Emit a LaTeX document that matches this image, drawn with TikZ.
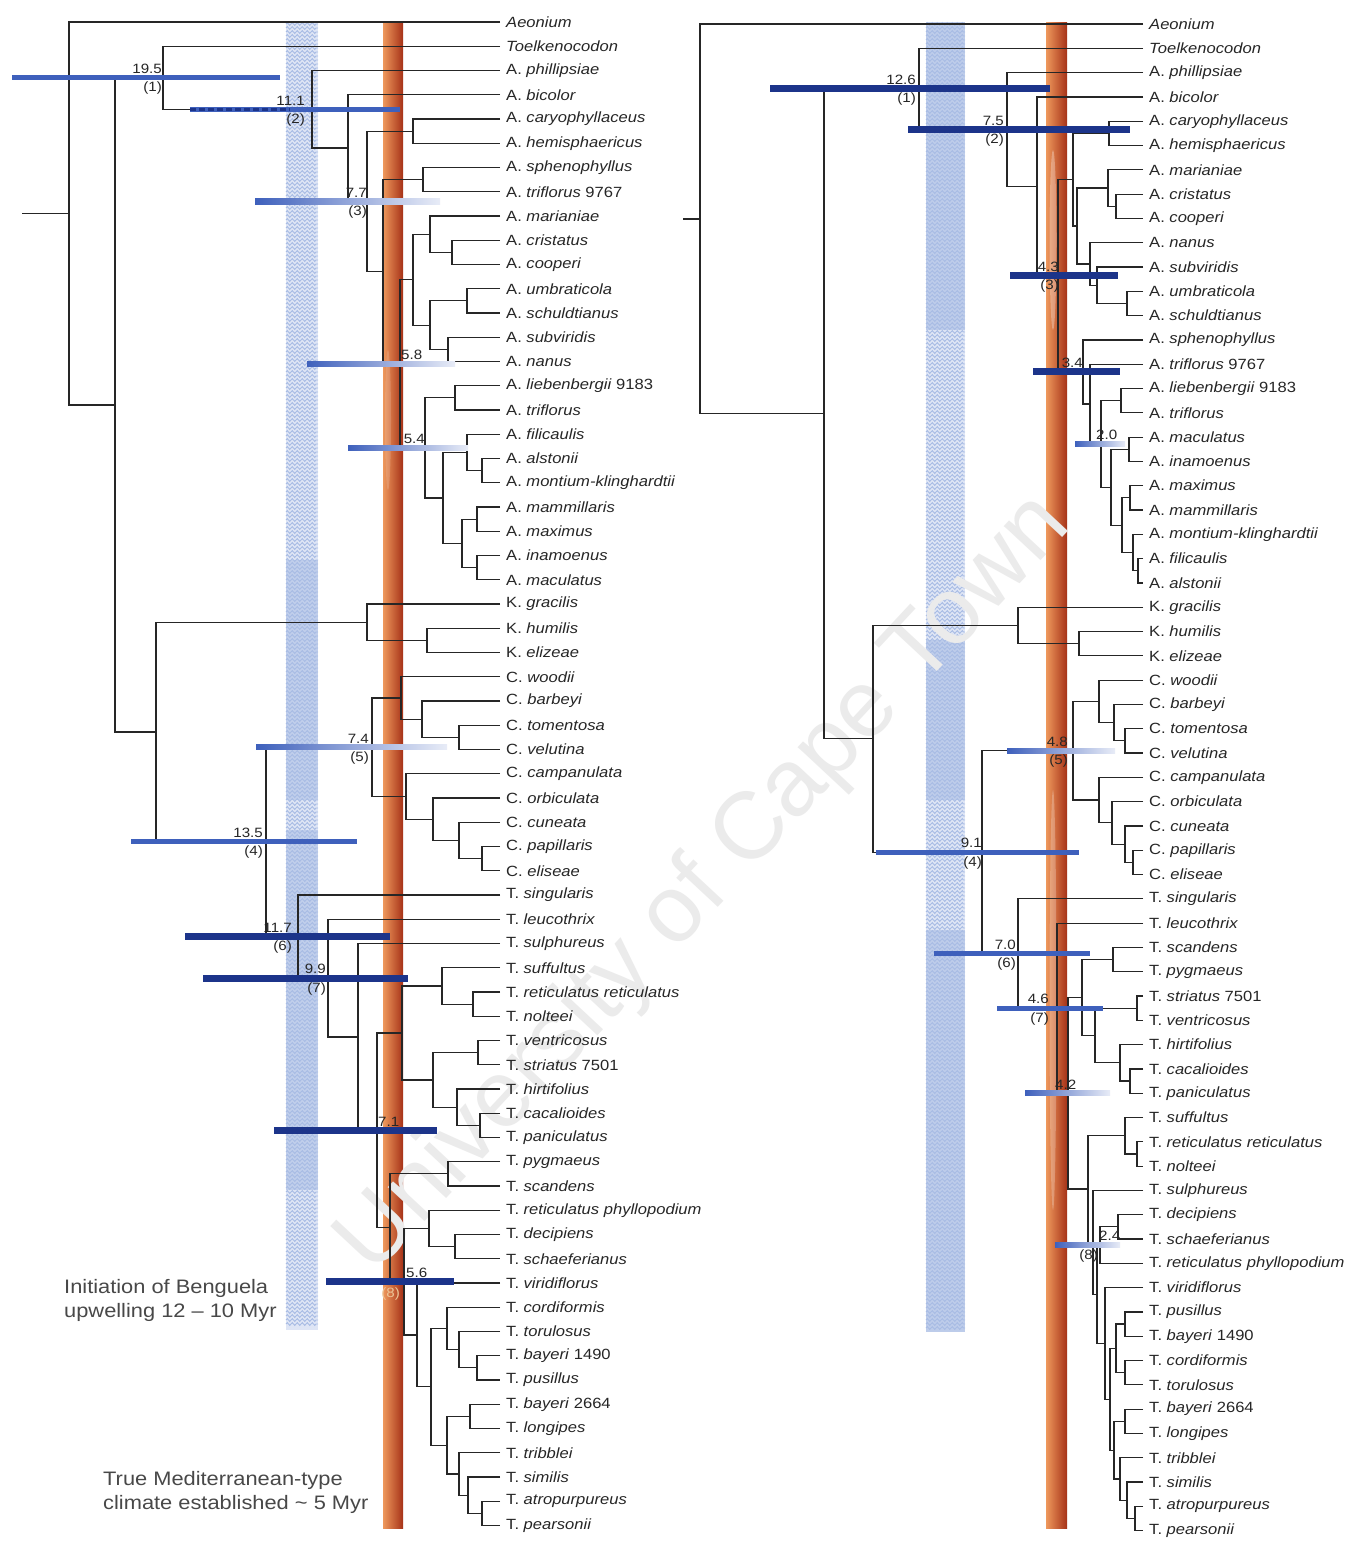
\documentclass[tikz,border=0pt]{standalone}
\usepackage{fontspec}
\setmainfont{Liberation Sans}
\newfontfamily\labfont[FakeStretch=1.12]{Liberation Sans}
\usetikzlibrary{decorations.pathmorphing}

\definecolor{navybar}{RGB}{28,52,138}
\definecolor{midbar}{RGB}{62,96,188}
\definecolor{bandblue}{RGB}{168,188,228}
\definecolor{bandpale}{RGB}{222,229,245}
\definecolor{orangeL}{RGB}{238,152,92}
\definecolor{orangeM}{RGB}{224,104,44}
\definecolor{orangeR}{RGB}{166,50,24}
\definecolor{branchcol}{RGB}{38,38,38}
\definecolor{notecol}{RGB}{72,72,72}
\definecolor{palelab}{RGB}{236,196,150}

\tikzset{
  branch/.style={draw=branchcol, line width=1.2pt},
  taxon/.style={anchor=west, inner sep=0pt, xshift=6pt,
    font=\labfont\fontsize{14.8}{16}\selectfont, text=black!85},
  agelab/.style={inner sep=0pt, font=\labfont\fontsize{13.5}{14}\selectfont, text=black!85},
  notetext/.style={anchor=north west, align=left, inner sep=0pt,
    font=\labfont\fontsize{19.5}{24.5}\selectfont, text=notecol},
  wavyrow/.style={draw=bandblue, line width=.9pt, decorate,
    decoration={zigzag, segment length=5, amplitude=1.4}},
}

% abbreviated genus + epithet
\newcommand\SpN[2]{#1.\ \textit{#2}}
% y position stored for every tip and clade
\newcommand\Yof[1]{\csname ycoord#1\endcsname}
% a terminal taxon: #1 name, #2 row index, #3 label
\newcommand\Tip[3]{%
  \pgfmathsetmacro\tipy{\Yzero+\Ystep*#2}%
  \expandafter\xdef\csname ycoord#1\endcsname{\tipy}%
  \coordinate (#1) at (\TipX,\tipy);
  \node[taxon] (#1-t) at (#1) {#3};
}
% an internal node: #1 name, #2 x position, #3 upper child, #4 lower child
\newcommand\Clade[4]{%
  \pgfmathsetmacro\cladey{(\Yof{#3}+\Yof{#4})/2}%
  \expandafter\xdef\csname ycoord#1\endcsname{\cladey}%
  \coordinate (#1) at (#2,\cladey);
  \draw[branch] (#3) -| (#1) |- (#4);
}
% age interval bars
\newcommand\NavyBar[3]{\fill[navybar] (#2,{\Yof{#1}-3.5}) rectangle (#3,{\Yof{#1}+3.5});}
\newcommand\BlueBar[3]{\fill[midbar] (#2,{\Yof{#1}-2.6}) rectangle (#3,{\Yof{#1}+2.6});}
\newcommand\FadeBar[3]{\shade[left color=midbar, middle color=midbar!80, right color=midbar!12]
  (#2,{\Yof{#1}-2.6}) rectangle (#3,{\Yof{#1}+2.6});}
% age labels
\newcommand\AgeA[4]{\node[agelab, anchor=south #4] (#1-age) at ([xshift=#3pt, yshift=4pt]#1) {#2};}
\newcommand\AgeB[5]{%
  \node[agelab, anchor=south #5] (#1-age) at ([xshift=#4pt, yshift=4pt]#1) {#2};
  \node[agelab, anchor=north #5] (#1-num) at ([xshift=#4pt, yshift=-4pt]#1) {#3};}

\begin{document}
\begin{tikzpicture}[x=1pt, y=-1pt]
\useasboundingbox (0,0) rectangle (1349,1542);
\fill[white] (0,0) rectangle (1349,1542);

% ---------- climate bands ----------
\fill[bandpale] (286,22) rectangle (318,1330);
\foreach \yy in {24,28,...,1326} \draw[wavyrow] (286,\yy) -- (318,\yy);
\fill[bandblue, opacity=.55] (286,560) rectangle (318,800);
\fill[bandblue, opacity=.55] (286,830) rectangle (318,1190);

\fill[bandpale] (926,22) rectangle (965,1332);
\foreach \yy in {24,28,...,1328} \draw[wavyrow] (926,\yy) -- (965,\yy);
\fill[bandblue, opacity=.6] (926,22) rectangle (965,330);
\fill[bandblue, opacity=.6] (926,640) rectangle (965,800);
\fill[bandblue, opacity=.6] (926,930) rectangle (965,1332);

\shade[left color=orangeL, middle color=orangeM, right color=orangeR] (383,22) rectangle (403,1528);
\shade[left color=orangeL, middle color=orangeM, right color=orangeR] (1046,22) rectangle (1067,1528);
\fill[white, opacity=.15] (388,420) ellipse (3 and 70);
\fill[white, opacity=.3] (1053,240) ellipse (3.5 and 90);
\fill[white, opacity=.25] (1053,1000) ellipse (3.5 and 210);

% ---------- watermark ----------
\node[rotate=47, text=black!8, inner sep=0pt, font=\fontsize{95}{95}\selectfont] (wm) at (705,885) {University of Cape Town};

% ---------- left tree ----------
\def\TipX{500}\def\Yzero{22}\def\Ystep{24.25}
\Tip{LtAeo}{0}{\textit{Aeonium}}
\Tip{LtToe}{1}{\textit{Toelkenocodon}}
\Tip{Ltphi}{2}{\SpN{A}{phillipsiae}}
\Tip{Ltbic}{3}{\SpN{A}{bicolor}}
\Tip{Ltcar}{4}{\SpN{A}{caryophyllaceus}}
\Tip{Lthem}{5}{\SpN{A}{hemisphaericus}}
\Tip{Ltsph}{6}{\SpN{A}{sphenophyllus}}
\Tip{Lttrn}{7}{\SpN{A}{triflorus} 9767}
\Tip{Ltmar}{8}{\SpN{A}{marianiae}}
\Tip{Ltcri}{9}{\SpN{A}{cristatus}}
\Tip{Ltcoo}{10}{\SpN{A}{cooperi}}
\Tip{Ltumb}{11}{\SpN{A}{umbraticola}}
\Tip{Ltsch}{12}{\SpN{A}{schuldtianus}}
\Tip{Ltsub}{13}{\SpN{A}{subviridis}}
\Tip{Ltnan}{14}{\SpN{A}{nanus}}
\Tip{Ltlie}{15}{\SpN{A}{liebenbergii} 9183}
\Tip{Lttri}{16}{\SpN{A}{triflorus}}
\Tip{Ltfil}{17}{\SpN{A}{filicaulis}}
\Tip{Ltals}{18}{\SpN{A}{alstonii}}
\Tip{Ltmon}{19}{\SpN{A}{montium-klinghardtii}}
\Tip{Ltmam}{20}{\SpN{A}{mammillaris}}
\Tip{Ltmax}{21}{\SpN{A}{maximus}}
\Tip{Ltina}{22}{\SpN{A}{inamoenus}}
\Tip{Ltmac}{23}{\SpN{A}{maculatus}}
\Tip{Ltgra}{24}{\SpN{K}{gracilis}}
\Tip{Lthum}{25}{\SpN{K}{humilis}}
\Tip{Lteli}{26}{\SpN{K}{elizeae}}
\Tip{Ltwoo}{27}{\SpN{C}{woodii}}
\Tip{Ltbar}{28}{\SpN{C}{barbeyi}}
\Tip{Lttom}{29}{\SpN{C}{tomentosa}}
\Tip{Ltvel}{30}{\SpN{C}{velutina}}
\Tip{Ltcam}{31}{\SpN{C}{campanulata}}
\Tip{Ltorb}{32}{\SpN{C}{orbiculata}}
\Tip{Ltcun}{33}{\SpN{C}{cuneata}}
\Tip{Ltpap}{34}{\SpN{C}{papillaris}}
\Tip{Ltels}{35}{\SpN{C}{eliseae}}
\Tip{Ltsin}{36}{\SpN{T}{singularis}}
\Tip{Ltleu}{37}{\SpN{T}{leucothrix}}
\Tip{Ltsul}{38}{\SpN{T}{sulphureus}}
\Tip{Ltsuf}{39}{\SpN{T}{suffultus}}
\Tip{Ltrr}{40}{\SpN{T}{reticulatus reticulatus}}
\Tip{Ltnol}{41}{\SpN{T}{nolteei}}
\Tip{Ltven}{42}{\SpN{T}{ventricosus}}
\Tip{Ltstr}{43}{\SpN{T}{striatus} 7501}
\Tip{Lthir}{44}{\SpN{T}{hirtifolius}}
\Tip{Ltcac}{45}{\SpN{T}{cacalioides}}
\Tip{Ltpan}{46}{\SpN{T}{paniculatus}}
\Tip{Ltpyg}{47}{\SpN{T}{pygmaeus}}
\Tip{Ltsca}{48}{\SpN{T}{scandens}}
\Tip{Ltrp}{49}{\SpN{T}{reticulatus phyllopodium}}
\Tip{Ltdec}{50}{\SpN{T}{decipiens}}
\Tip{Ltsha}{51}{\SpN{T}{schaeferianus}}
\Tip{Ltvir}{52}{\SpN{T}{viridiflorus}}
\Tip{Ltcor}{53}{\SpN{T}{cordiformis}}
\Tip{Lttor}{54}{\SpN{T}{torulosus}}
\Tip{Ltbaa}{55}{\SpN{T}{bayeri} 1490}
\Tip{Ltpus}{56}{\SpN{T}{pusillus}}
\Tip{Ltbab}{57}{\SpN{T}{bayeri} 2664}
\Tip{Ltlon}{58}{\SpN{T}{longipes}}
\Tip{Lttrb}{59}{\SpN{T}{tribblei}}
\Tip{Ltsim}{60}{\SpN{T}{similis}}
\Tip{Ltatr}{61}{\SpN{T}{atropurpureus}}
\Tip{Ltpea}{62}{\SpN{T}{pearsonii}}

\Clade{Lcst}{423}{Ltsph}{Lttrn}
\Clade{Lcch}{413}{Ltcar}{Lthem}
\Clade{Lccc}{452}{Ltcri}{Ltcoo}
\Clade{Lcmc}{430}{Ltmar}{Lccc}
\Clade{Lcus}{467}{Ltumb}{Ltsch}
\Clade{Lcsn}{448}{Ltsub}{Ltnan}
\Clade{Lcusn}{430}{Lcus}{Lcsn}
\Clade{Lcmu}{413}{Lcmc}{Lcusn}
\Clade{Lclt}{455}{Ltlie}{Lttri}
\Clade{Lcam}{482}{Ltals}{Ltmon}
\Clade{Lcfa}{467}{Ltfil}{Lcam}
\Clade{Lcmm}{477}{Ltmam}{Ltmax}
\Clade{Lcim}{477}{Ltina}{Ltmac}
\Clade{Lcmi}{462}{Lcmm}{Lcim}
\Clade{Lcfm}{443}{Lcfa}{Lcmi}
\Clade{Lc54}{425}{Lclt}{Lcfm}
\Clade{Lc58}{400}{Lcmu}{Lc54}
\Clade{Lcsp}{383}{Lcst}{Lc58}
\Clade{Lc77}{367}{Lcch}{Lcsp}
\Clade{Lcbi}{348}{Ltbic}{Lc77}
\Clade{Lc111}{312}{Ltphi}{Lcbi}
\Clade{Lc195}{163}{LtToe}{Lc111}
\Clade{Lche}{427}{Lthum}{Lteli}
\Clade{LcK}{367}{Ltgra}{Lche}
\Clade{Lctv}{459}{Lttom}{Ltvel}
\Clade{Lcbt}{422}{Ltbar}{Lctv}
\Clade{Lcwb}{401}{Ltwoo}{Lcbt}
\Clade{Lcpe}{482}{Ltpap}{Ltels}
\Clade{Lccu}{459}{Ltcun}{Lcpe}
\Clade{Lcor}{433}{Ltorb}{Lccu}
\Clade{Lcca}{406}{Ltcam}{Lcor}
\Clade{Lc74}{372}{Lcwb}{Lcca}
\Clade{Lcrn}{473}{Ltrr}{Ltnol}
\Clade{Lcsr}{442}{Ltsuf}{Lcrn}
\Clade{Lcvs}{478}{Ltven}{Ltstr}
\Clade{Lccp}{480}{Ltcac}{Ltpan}
\Clade{Lchc}{457}{Lthir}{Lccp}
\Clade{Lcvh}{433}{Lcvs}{Lchc}
\Clade{Lcsv}{402}{Lcsr}{Lcvh}
\Clade{Lcps}{448}{Ltpyg}{Ltsca}
\Clade{Lcds}{455}{Ltdec}{Ltsha}
\Clade{Lcrd}{429}{Ltrp}{Lcds}
\Clade{Lcbp}{477}{Ltbaa}{Ltpus}
\Clade{Lctb}{459}{Lttor}{Lcbp}
\Clade{Lcct}{447}{Ltcor}{Lctb}
\Clade{Lcbl}{470}{Ltbab}{Ltlon}
\Clade{Lcap}{482}{Ltatr}{Ltpea}
\Clade{Lcsa}{468}{Ltsim}{Lcap}
\Clade{Lcta}{459}{Lttrb}{Lcsa}
\Clade{Lcblt}{447}{Lcbl}{Lcta}
\Clade{LcC}{431}{Lcct}{Lcblt}
\Clade{LcD}{417}{Ltvir}{LcC}
\Clade{Lc56}{404}{Lcrd}{LcD}
\Clade{LcE}{390}{Lcps}{Lc56}
\Clade{Lc71}{377}{Lcsv}{LcE}
\Clade{Lcsu}{358}{Ltsul}{Lc71}
\Clade{Lc99}{328}{Ltleu}{Lcsu}
\Clade{Lc117}{298}{Ltsin}{Lc99}
\Clade{Lc135}{266}{Lc74}{Lc117}
\Clade{LcKCT}{156}{LcK}{Lc135}
\Clade{LcX}{115}{Lc195}{LcKCT}
\Clade{Lcroot}{69}{LtAeo}{LcX}
\coordinate (Lstub) at (22,\Yof{Lcroot});
\draw[branch] (Lstub) -- (Lcroot);

% ---------- right tree ----------
\def\TipX{1143}\def\Yzero{24}\def\Ystep{24.3}
\Tip{RtAeo}{0}{\textit{Aeonium}}
\Tip{RtToe}{1}{\textit{Toelkenocodon}}
\Tip{Rtphi}{2}{\SpN{A}{phillipsiae}}
\Tip{Rtbic}{3}{\SpN{A}{bicolor}}
\Tip{Rtcar}{4}{\SpN{A}{caryophyllaceus}}
\Tip{Rthem}{5}{\SpN{A}{hemisphaericus}}
\Tip{Rtmar}{6}{\SpN{A}{marianiae}}
\Tip{Rtcri}{7}{\SpN{A}{cristatus}}
\Tip{Rtcoo}{8}{\SpN{A}{cooperi}}
\Tip{Rtnan}{9}{\SpN{A}{nanus}}
\Tip{Rtsub}{10}{\SpN{A}{subviridis}}
\Tip{Rtumb}{11}{\SpN{A}{umbraticola}}
\Tip{Rtsch}{12}{\SpN{A}{schuldtianus}}
\Tip{Rtsph}{13}{\SpN{A}{sphenophyllus}}
\Tip{Rttrn}{14}{\SpN{A}{triflorus} 9767}
\Tip{Rtlie}{15}{\SpN{A}{liebenbergii} 9183}
\Tip{Rttri}{16}{\SpN{A}{triflorus}}
\Tip{Rtmac}{17}{\SpN{A}{maculatus}}
\Tip{Rtina}{18}{\SpN{A}{inamoenus}}
\Tip{Rtmax}{19}{\SpN{A}{maximus}}
\Tip{Rtmam}{20}{\SpN{A}{mammillaris}}
\Tip{Rtmon}{21}{\SpN{A}{montium-klinghardtii}}
\Tip{Rtfil}{22}{\SpN{A}{filicaulis}}
\Tip{Rtals}{23}{\SpN{A}{alstonii}}
\Tip{Rtgra}{24}{\SpN{K}{gracilis}}
\Tip{Rthum}{25}{\SpN{K}{humilis}}
\Tip{Rteli}{26}{\SpN{K}{elizeae}}
\Tip{Rtwoo}{27}{\SpN{C}{woodii}}
\Tip{Rtbar}{28}{\SpN{C}{barbeyi}}
\Tip{Rttom}{29}{\SpN{C}{tomentosa}}
\Tip{Rtvel}{30}{\SpN{C}{velutina}}
\Tip{Rtcam}{31}{\SpN{C}{campanulata}}
\Tip{Rtorb}{32}{\SpN{C}{orbiculata}}
\Tip{Rtcun}{33}{\SpN{C}{cuneata}}
\Tip{Rtpap}{34}{\SpN{C}{papillaris}}
\Tip{Rtels}{35}{\SpN{C}{eliseae}}
\Tip{Rtsin}{36}{\SpN{T}{singularis}}
\Tip{Rtleu}{37}{\SpN{T}{leucothrix}}
\Tip{Rtsca}{38}{\SpN{T}{scandens}}
\Tip{Rtpyg}{39}{\SpN{T}{pygmaeus}}
\Tip{Rtstr}{40}{\SpN{T}{striatus} 7501}
\Tip{Rtven}{41}{\SpN{T}{ventricosus}}
\Tip{Rthir}{42}{\SpN{T}{hirtifolius}}
\Tip{Rtcac}{43}{\SpN{T}{cacalioides}}
\Tip{Rtpan}{44}{\SpN{T}{paniculatus}}
\Tip{Rtsuf}{45}{\SpN{T}{suffultus}}
\Tip{Rtrr}{46}{\SpN{T}{reticulatus reticulatus}}
\Tip{Rtnol}{47}{\SpN{T}{nolteei}}
\Tip{Rtsul}{48}{\SpN{T}{sulphureus}}
\Tip{Rtdec}{49}{\SpN{T}{decipiens}}
\Tip{Rtsha}{50}{\SpN{T}{schaeferianus}}
\Tip{Rtrp}{51}{\SpN{T}{reticulatus phyllopodium}}
\Tip{Rtvir}{52}{\SpN{T}{viridiflorus}}
\Tip{Rtpus}{53}{\SpN{T}{pusillus}}
\Tip{Rtbaa}{54}{\SpN{T}{bayeri} 1490}
\Tip{Rtcor}{55}{\SpN{T}{cordiformis}}
\Tip{Rttor}{56}{\SpN{T}{torulosus}}
\Tip{Rtbab}{57}{\SpN{T}{bayeri} 2664}
\Tip{Rtlon}{58}{\SpN{T}{longipes}}
\Tip{Rttrb}{59}{\SpN{T}{tribblei}}
\Tip{Rtsim}{60}{\SpN{T}{similis}}
\Tip{Rtatr}{61}{\SpN{T}{atropurpureus}}
\Tip{Rtpea}{62}{\SpN{T}{pearsonii}}

\Clade{Rcch}{1109}{Rtcar}{Rthem}
\Clade{Rccc}{1116}{Rtcri}{Rtcoo}
\Clade{Rcmc}{1108}{Rtmar}{Rccc}
\Clade{Rcus}{1127}{Rtumb}{Rtsch}
\Clade{Rcsu}{1097}{Rtsub}{Rcus}
\Clade{Rcn}{1090}{Rtnan}{Rcsu}
\Clade{Rcb2}{1077}{Rcmc}{Rcn}
\Clade{Rca}{1073}{Rcch}{Rcb2}
\Clade{Rcli}{1121}{Rtlie}{Rttri}
\Clade{Rcmi}{1129}{Rtmac}{Rtina}
\Clade{Rcmm}{1130}{Rtmax}{Rtmam}
\Clade{Rcfa}{1138}{Rtfil}{Rtals}
\Clade{Rcmf}{1133}{Rtmon}{Rcfa}
\Clade{Rcn4}{1122}{Rcmm}{Rcmf}
\Clade{Rcn3}{1111}{Rcmi}{Rcn4}
\Clade{Rcn2}{1101}{Rcli}{Rcn3}
\Clade{Rcn1}{1090}{Rttrn}{Rcn2}
\Clade{Rc34}{1083}{Rtsph}{Rcn1}
\Clade{Rc43}{1058}{Rca}{Rc34}
\Clade{Rcb}{1037}{Rtbic}{Rc43}
\Clade{Rc75}{1007}{Rtphi}{Rcb}
\Clade{Rc126}{919}{RtToe}{Rc75}
\Clade{Rche}{1079}{Rthum}{Rteli}
\Clade{RcK}{1018}{Rtgra}{Rche}
\Clade{Rctv}{1125}{Rttom}{Rtvel}
\Clade{Rcbt}{1114}{Rtbar}{Rctv}
\Clade{Rcwb}{1099}{Rtwoo}{Rcbt}
\Clade{Rcpe}{1133}{Rtpap}{Rtels}
\Clade{Rccu}{1125}{Rtcun}{Rcpe}
\Clade{Rcor}{1112}{Rtorb}{Rccu}
\Clade{Rcca}{1099}{Rtcam}{Rcor}
\Clade{Rc48}{1073}{Rcwb}{Rcca}
\Clade{Rcsp}{1113}{Rtsca}{Rtpyg}
\Clade{Rcsv}{1137}{Rtstr}{Rtven}
\Clade{Rccp}{1130}{Rtcac}{Rtpan}
\Clade{Rchc}{1120}{Rthir}{Rccp}
\Clade{Rcsh}{1095}{Rcsv}{Rchc}
\Clade{RcU}{1082}{Rcsp}{Rcsh}
\Clade{Rcrn}{1137}{Rtrr}{Rtnol}
\Clade{Rcsr}{1125}{Rtsuf}{Rcrn}
\Clade{Rcds}{1118}{Rtdec}{Rtsha}
\Clade{Rc24}{1100}{Rcds}{Rtrp}
\Clade{Rcpb}{1125}{Rtpus}{Rtbaa}
\Clade{Rcct}{1125}{Rtcor}{Rttor}
\Clade{Rcpc}{1116}{Rcpb}{Rcct}
\Clade{Rcbl}{1125}{Rtbab}{Rtlon}
\Clade{Rcap}{1135}{Rtatr}{Rtpea}
\Clade{Rcsa}{1127}{Rtsim}{Rcap}
\Clade{Rcta}{1120}{Rttrb}{Rcsa}
\Clade{Rcblt}{1114}{Rcbl}{Rcta}
\Clade{RcQ}{1110}{Rcpc}{Rcblt}
\Clade{RcP}{1105}{Rtvir}{RcQ}
\Clade{RcN}{1097}{Rc24}{RcP}
\Clade{RcM}{1093}{Rtsul}{RcN}
\Clade{RcL}{1088}{Rcsr}{RcM}
\Clade{Rc42}{1068}{RcU}{RcL}
\Clade{Rc46}{1057}{Rtleu}{Rc42}
\Clade{Rc70}{1018}{Rtsin}{Rc46}
\Clade{Rc91}{982}{Rc48}{Rc70}
\Clade{RcKCT}{873}{RcK}{Rc91}
\Clade{RcX}{824}{Rc126}{RcKCT}
\Clade{Rcroot}{700}{RtAeo}{RcX}
\coordinate (Rstub) at (683,\Yof{Rcroot});
\draw[branch] (Rstub) -- (Rcroot);

% ---------- age intervals ----------
\BlueBar{Lc195}{12}{280}
\BlueBar{Lc111}{190}{400}
\draw[navybar, line width=3.2pt, dash pattern=on 6pt off 3pt] (190,\Yof{Lc111}) -- (290,\Yof{Lc111});
\FadeBar{Lc77}{255}{440}
\FadeBar{Lc58}{307}{455}
\FadeBar{Lc54}{348}{468}
\FadeBar{Lc74}{256}{447}
\BlueBar{Lc135}{131}{357}
\NavyBar{Lc117}{185}{390}
\NavyBar{Lc99}{203}{408}
\NavyBar{Lc71}{274}{437}
\NavyBar{Lc56}{326}{454}

\NavyBar{Rc126}{770}{1050}
\NavyBar{Rc75}{908}{1130}
\NavyBar{Rc43}{1010}{1118}
\NavyBar{Rc34}{1033}{1120}
\FadeBar{Rcn2}{1075}{1125}
\FadeBar{Rc48}{1007}{1115}
\BlueBar{Rc91}{876}{1079}
\BlueBar{Rc70}{934}{1090}
\BlueBar{Rc46}{997}{1103}
\FadeBar{Rc42}{1025}{1110}
\FadeBar{Rc24}{1055}{1120}

% ---------- node ages and clade numbers ----------
\AgeB{Lc195}{19.5}{(1)}{-1}{east}
\AgeB{Lc111}{11.1}{(2)}{-7}{east}
\AgeB{Lc77}{7.7}{(3)}{0}{east}
\AgeA{Lc58}{5.8}{1}{west}
\AgeA{Lc54}{5.4}{0}{east}
\AgeB{Lc74}{7.4}{(5)}{-3}{east}
\AgeB{Lc135}{13.5}{(4)}{-3}{east}
\AgeB{Lc117}{11.7}{(6)}{-6}{east}
\AgeB{Lc99}{9.9}{(7)}{-2}{east}
\AgeA{Lc71}{7.1}{1}{west}
\AgeA{Lc56}{5.6}{2}{west}
\node[agelab, anchor=north east, text=palelab] (Lc56-num) at ([xshift=-4pt, yshift=-6pt]Lc56) {(8)};

\AgeB{Rc126}{12.6}{(1)}{-3}{east}
\AgeB{Rc75}{7.5}{(2)}{-3}{east}
\AgeB{Rc43}{4.3}{(3)}{1}{east}
\AgeA{Rc34}{3.4}{0}{east}
\AgeA{Rcn2}{2.0}{-5}{west}
\AgeB{Rc48}{4.8}{(5)}{-5}{east}
\AgeB{Rc91}{9.1}{(4)}{0}{east}
\AgeB{Rc70}{7.0}{(6)}{-2}{east}
\AgeB{Rc46}{4.6}{(7)}{-8}{east}
\AgeA{Rc42}{4.2}{-13}{west}
\node[agelab, anchor=south west] (Rc24-age) at ([xshift=-1pt, yshift=4pt]Rc24) {2.4};
\node[agelab, anchor=north east] (Rc24-num) at ([xshift=-2pt, yshift=-4pt]Rc24) {(8)};

% ---------- climate notes ----------
\node[notetext] (benguela) at (64,1279) {Initiation of Benguela\\upwelling 12 – 10 Myr};
\node[notetext] (medclimate) at (103,1471) {True Mediterranean-type\\climate established \textasciitilde{} 5 Myr};
\end{tikzpicture}
\end{document}
